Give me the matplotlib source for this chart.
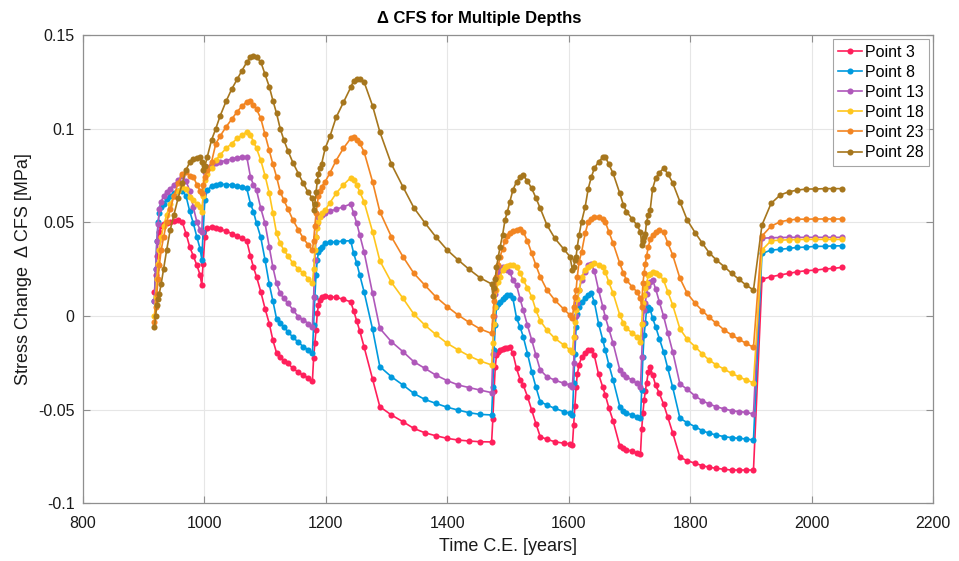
import matplotlib
matplotlib.use("Agg")
import matplotlib.pyplot as plt

plt.rcParams['font.family'] = ['Liberation Sans', 'DejaVu Sans']
plt.rcParams['axes.unicode_minus'] = False

years = [918, 920, 922, 924, 926, 929, 933, 938, 944, 950, 957, 964, 970, 976, 982, 988, 993, 996,
         998, 1001,
         1005, 1012, 1019, 1026, 1036, 1045, 1054, 1062, 1070, 1076, 1081, 1086, 1093, 1100, 1107, 1113,
         1119, 1125, 1131, 1138, 1146, 1155, 1163, 1171, 1178,
         1180, 1182, 1184, 1186, 1188, 1190, 1193,
         1199, 1207, 1217, 1229, 1241, 1246, 1251, 1256, 1263, 1277, 1289, 1308, 1327, 1345, 1363, 1381,
         1400, 1418, 1436, 1454, 1473,
         1475, 1477, 1479, 1481, 1484, 1487,
         1491, 1495, 1499, 1503, 1508, 1514, 1520, 1525, 1532, 1539, 1546, 1553, 1564, 1577, 1592, 1602, 1606,
         1608, 1610, 1612, 1614, 1617, 1621,
         1627, 1632, 1637, 1642, 1649, 1656, 1660, 1666, 1673, 1684, 1690, 1695, 1704, 1712, 1718,
         1720, 1722, 1724, 1726, 1728, 1731,
         1734, 1738, 1743, 1749, 1756, 1763, 1771, 1783, 1795, 1808, 1820, 1831, 1843, 1856, 1868, 1880, 1892, 1904,
         1918, 1933, 1948, 1962, 1976, 1991, 2006, 2021, 2035, 2050]

point3 = [0.013, 0.022, 0.032, 0.040, 0.045, 0.048, 0.049, 0.0495, 0.050, 0.0505, 0.051, 0.050, 0.044, 0.037, 0.032, 0.027, 0.022, 0.0165,
          0.028, 0.042,
          0.0468, 0.0477, 0.047, 0.0462, 0.0454, 0.044, 0.0427, 0.0415, 0.040, 0.032, 0.026, 0.021, 0.013, 0.004, -0.004, -0.013,
          -0.0196, -0.022, -0.0239, -0.0253, -0.028, -0.030, -0.0317, -0.033, -0.0347,
          -0.0224, -0.0144, -0.0075, 0.0016, 0.0059, 0.0085, 0.0103,
          0.0107, 0.0103, 0.010, 0.0089, 0.0076, 0.0027, -0.0027, -0.008, -0.0164, -0.0336, -0.0484, -0.0528, -0.0564, -0.060, -0.0623, -0.0639,
          -0.0653, -0.0662, -0.0667, -0.0671, -0.0672,
          -0.055, -0.040, -0.027, -0.021, -0.019, -0.018,
          -0.0175, -0.0172, -0.0168, -0.0167, -0.0199, -0.028, -0.034, -0.0368, -0.043, -0.0502, -0.0575, -0.0644, -0.0658, -0.0671, -0.0679, -0.0683, -0.0688,
          -0.058, -0.048, -0.038, -0.031, -0.026, -0.022,
          -0.0199, -0.0183, -0.018, -0.021, -0.031, -0.038, -0.042, -0.049, -0.056, -0.0694, -0.0705, -0.0713, -0.0722, -0.073, -0.0737,
          -0.0605, -0.052, -0.045, -0.040, -0.0359, -0.0297,
          -0.027, -0.0315, -0.037, -0.0412, -0.047, -0.054, -0.0623, -0.0754, -0.0772, -0.0786, -0.0799, -0.0807, -0.0813, -0.0818, -0.0822, -0.0822, -0.0822, -0.0822,
          0.0196, 0.021, 0.0219, 0.0228, 0.0236, 0.0242, 0.0245, 0.0251, 0.0254, 0.026]

point8 = [0.008, 0.025, 0.040, 0.050, 0.055, 0.058, 0.060, 0.0625, 0.064, 0.0655, 0.067, 0.067, 0.064, 0.056, 0.0495, 0.042, 0.036, 0.030,
          0.045, 0.062,
          0.0672, 0.0694, 0.070, 0.0704, 0.0702, 0.070, 0.0694, 0.0688, 0.0681, 0.060, 0.0557, 0.0495, 0.042, 0.030, 0.017, 0.008,
          -0.0015, -0.0036, -0.006, -0.0084, -0.0114, -0.014, -0.0164, -0.018, -0.0196,
          -0.005, 0.010, 0.022, 0.030, 0.034, 0.036, 0.037,
          0.0388, 0.0393, 0.0396, 0.040, 0.0402, 0.0334, 0.0281, 0.0219, 0.013, -0.007, -0.027, -0.0324, -0.0368, -0.0413, -0.0445, -0.0466,
          -0.0487, -0.0502, -0.0516, -0.0525, -0.0528,
          -0.0377, -0.018, -0.005, 0.005, 0.0065, 0.0076,
          0.009, 0.0103, 0.011, 0.0112, 0.0094, -0.001, -0.006, -0.011, -0.020, -0.0297, -0.038, -0.0457, -0.0475, -0.0493, -0.051, -0.0519, -0.0528,
          -0.036, -0.020, -0.006, 0.001, 0.005, 0.0076,
          0.0095, 0.011, 0.0121, 0.0076, -0.004, -0.0128, -0.0181, -0.026, -0.0342, -0.0484, -0.0505, -0.0519, -0.0528, -0.0537, -0.0546,
          -0.0395, -0.0217, -0.010, -0.0039, 0.0032, 0.005,
          0.0036, -0.0012, -0.0057, -0.012, -0.019, -0.028, -0.038, -0.0546, -0.0569, -0.0591, -0.0612, -0.0626, -0.0635, -0.0644, -0.0649, -0.0653, -0.0656, -0.0662,
          0.0334, 0.0352, 0.0356, 0.0361, 0.0366, 0.0368, 0.0372, 0.0372, 0.0374, 0.0375]

point13 = [0.008, 0.025, 0.040, 0.049, 0.057, 0.061, 0.064, 0.066, 0.068, 0.070, 0.0725, 0.0749, 0.072, 0.067, 0.058, 0.050, 0.046, 0.045,
           0.065, 0.077,
           0.0797, 0.0806, 0.0815, 0.0823, 0.083, 0.0838, 0.0845, 0.0848, 0.085, 0.0743, 0.070, 0.0672, 0.0575, 0.0495, 0.037, 0.026,
           0.0174, 0.0121, 0.0094, 0.0068, 0.0032, -0.0004, -0.002, -0.004, -0.0057,
           0.010, 0.030, 0.042, 0.049, 0.053, 0.0535, 0.054,
           0.055, 0.056, 0.057, 0.0583, 0.0598, 0.0548, 0.0495, 0.0432, 0.0343, 0.0121, -0.0066, -0.0137, -0.019, -0.0244, -0.0279, -0.0315,
           -0.0345, -0.0368, -0.0382, -0.0395, -0.0409,
           -0.020, 0.000, 0.012, 0.019, 0.023, 0.0255,
           0.026, 0.025, 0.0245, 0.0236, 0.019, 0.0165, 0.009, 0.0032, -0.005, -0.0128, -0.021, -0.0288, -0.0324, -0.0342, -0.0359, -0.0368, -0.0377,
           -0.025, -0.011, 0.000, 0.007, 0.0139, 0.0192,
           0.0236, 0.0272, 0.0277, 0.0242, 0.0139, 0.005, -0.0004, -0.007, -0.0146, -0.0288, -0.031, -0.0324, -0.0342, -0.0359, -0.0377,
           -0.0217, -0.0039, 0.003, 0.007, 0.012, 0.016,
           0.0183, 0.0192, 0.0145, 0.0076, 0.000, -0.009, -0.019, -0.0363, -0.0391, -0.0427, -0.0452, -0.047, -0.0484, -0.0496, -0.0505, -0.051, -0.0514, -0.0523,
           0.0415, 0.0418, 0.0419, 0.042, 0.042, 0.042, 0.042, 0.042, 0.042, 0.042]

point18 = [0.000, 0.010, 0.020, 0.028, 0.035, 0.042, 0.048, 0.054, 0.060, 0.064, 0.067, 0.069, 0.068, 0.0637, 0.062, 0.060, 0.058, 0.0557,
           0.064, 0.0726,
           0.076, 0.079, 0.0832, 0.086, 0.0895, 0.092, 0.0948, 0.0965, 0.0983, 0.0966, 0.093, 0.0895, 0.0832, 0.075, 0.0655, 0.055,
           0.0441, 0.0388, 0.0352, 0.032, 0.0281, 0.025, 0.0228, 0.020, 0.0174,
           0.025, 0.035, 0.042, 0.047, 0.050, 0.053, 0.055,
           0.0566, 0.0605, 0.0655, 0.070, 0.0738, 0.0726, 0.070, 0.0663, 0.061, 0.045, 0.0295, 0.018, 0.0095, 0.001, -0.0048, -0.0098,
           -0.0146, -0.0181, -0.0213, -0.024, -0.0261,
           -0.0146, -0.004, 0.005, 0.0139, 0.018, 0.021,
           0.0245, 0.026, 0.0267, 0.027, 0.0272, 0.026, 0.023, 0.0192, 0.015, 0.0103, 0.003, -0.0025, -0.0075, -0.0119, -0.0155, -0.0181, -0.019,
           -0.011, -0.003, 0.0032, 0.009, 0.0139, 0.021,
           0.0245, 0.026, 0.0275, 0.0281, 0.0272, 0.026, 0.0236, 0.018, 0.0121, 0.0005, -0.0039, -0.0066, -0.0089, -0.011, -0.0137,
           -0.004, 0.0068, 0.011, 0.015, 0.0174, 0.0219,
           0.0225, 0.0236, 0.0231, 0.0219, 0.0192, 0.013, 0.0059, -0.0069, -0.0124, -0.0164, -0.0203, -0.0235, -0.0261, -0.0284, -0.0306, -0.0324, -0.0342, -0.0356,
           0.0352, 0.0402, 0.0405, 0.0407, 0.0408, 0.0409, 0.0409, 0.0409, 0.0409, 0.0409]

point23 = [-0.003, 0.005, 0.012, 0.020, 0.027, 0.035, 0.042, 0.050, 0.057, 0.064, 0.071, 0.076, 0.077, 0.075, 0.0743, 0.070, 0.067, 0.0655,
           0.070, 0.0743,
           0.078, 0.0823, 0.092, 0.096, 0.101, 0.105, 0.109, 0.112, 0.1144, 0.1149, 0.1126, 0.1105, 0.1055, 0.097, 0.0886, 0.081,
           0.0743, 0.0663, 0.0619, 0.057, 0.0512, 0.046, 0.0415, 0.038, 0.0352,
           0.040, 0.048, 0.055, 0.060, 0.064, 0.067, 0.069,
           0.0717, 0.0765, 0.083, 0.0895, 0.0948, 0.0954, 0.094, 0.0922, 0.0877, 0.0717, 0.0557, 0.0423, 0.0317, 0.0228, 0.0165, 0.0103,
           0.005, 0.0005, -0.0034, -0.0069, -0.0093,
           0.000, 0.008, 0.0139, 0.021, 0.027, 0.0317,
           0.036, 0.040, 0.0425, 0.0441, 0.0452, 0.0459, 0.0463, 0.045, 0.040, 0.0335, 0.027, 0.021, 0.0139, 0.0085, 0.0036, 0.0005, -0.001,
           0.005, 0.010, 0.0139, 0.021, 0.029, 0.034,
           0.0441, 0.0503, 0.052, 0.0527, 0.053, 0.052, 0.0503, 0.045, 0.0388, 0.0281, 0.0228, 0.0192, 0.0157, 0.013, 0.0094,
           0.005, 0.0174, 0.023, 0.028, 0.032, 0.037,
           0.041, 0.0432, 0.045, 0.0458, 0.0447, 0.039, 0.0326, 0.0201, 0.0121, 0.0068, 0.0028, -0.0007, -0.0039, -0.0075, -0.0101, -0.0124, -0.0146, -0.0167,
           0.0427, 0.048, 0.0503, 0.0512, 0.0517, 0.0517, 0.0518, 0.0518, 0.0518, 0.0518]

point28 = [-0.006, 0.000, 0.006, 0.009, 0.012, 0.017, 0.025, 0.035, 0.046, 0.054, 0.063, 0.071, 0.078, 0.082, 0.0838, 0.0841, 0.085, 0.082,
           0.078, 0.080,
           0.085, 0.094, 0.100, 0.1067, 0.1147, 0.121, 0.1263, 0.131, 0.1355, 0.138, 0.1387, 0.138, 0.1357, 0.129, 0.1224, 0.115,
           0.1082, 0.100, 0.094, 0.088, 0.0818, 0.076, 0.0708, 0.066, 0.0628,
           0.0566, 0.060, 0.066, 0.072, 0.076, 0.079, 0.081,
           0.0895, 0.096, 0.106, 0.114, 0.122, 0.1256, 0.1265, 0.1265, 0.125, 0.1122, 0.0983, 0.0811, 0.069, 0.0578, 0.0498, 0.0423,
           0.0352, 0.0299, 0.0249, 0.0204, 0.0171,
           0.0107, 0.015, 0.020, 0.026, 0.0317, 0.037,
           0.0432, 0.0512, 0.0557, 0.061, 0.0672, 0.0717, 0.074, 0.0752, 0.072, 0.0681, 0.063, 0.0575, 0.0486, 0.0415, 0.0356, 0.0317, 0.0245,
           0.026, 0.030, 0.0317, 0.037, 0.0432, 0.0503,
           0.0583, 0.068, 0.074, 0.0788, 0.0823, 0.0847, 0.085, 0.081, 0.0761, 0.0655, 0.0592, 0.0557, 0.052, 0.0486, 0.045,
           0.0379, 0.040, 0.042, 0.044, 0.0503, 0.054,
           0.0566, 0.068, 0.0735, 0.0765, 0.0788, 0.076, 0.0711, 0.061, 0.0512, 0.0445, 0.0388, 0.0338, 0.0299, 0.0263, 0.0228, 0.0196, 0.0165, 0.0139,
           0.0486, 0.0601, 0.0646, 0.0663, 0.0672, 0.0678, 0.0678, 0.068, 0.068, 0.068]

series_names = ["Point 3", "Point 8", "Point 13", "Point 18", "Point 23", "Point 28"]
series_values = [point3, point8, point13, point18, point23, point28]
colors = ["#FF1F5B", "#009ADE", "#AF58BA", "#FFC61E", "#F28522", "#A6761D"]

xticks = [800, 1000, 1200, 1400, 1600, 1800, 2000, 2200]
yticks = [-0.1, -0.05, 0, 0.05, 0.1, 0.15]
ytick_labels = ["-0.1", "-0.05", "0", "0.05", "0.1", "0.15"]

fig = plt.figure(figsize=(9.59, 5.61), dpi=100)
ax = fig.add_axes([0.0863, 0.1027, 0.8869, 0.8349])

for name, vals, c in zip(series_names, series_values, colors):
    ax.plot(years, vals, color=c, lw=1.2, marker='o', ms=4.4, mew=0, label=name)

ax.set_xlim(800, 2200)
ax.set_ylim(-0.1, 0.15)
ax.set_xticks(xticks)
ax.set_xticklabels([str(t) for t in xticks])
ax.set_yticks(yticks)
ax.set_yticklabels(ytick_labels)
ax.grid(True, color='#e6e6e6', lw=0.8)
ax.set_axisbelow(True)
for s in ax.spines.values():
    s.set_color('#8f8f8f')
    s.set_linewidth(0.9)
ax.tick_params(direction='in', length=5, width=0.8, color='#8f8f8f', labelsize=11.5,
               labelcolor='#1a1a1a', top=True, right=True)
ax.tick_params(axis='x', pad=9)
ax.tick_params(axis='y', pad=6)

fig.text(0.5, 1 - 18.0 / 561, "Δ CFS for Multiple Depths", fontsize=12, fontweight='bold',
         ha='center', va='center')
ax.set_xlabel("Time C.E. [years]", fontsize=13, color='#1a1a1a', labelpad=5)
ax.set_ylabel("Stress Change  Δ CFS [MPa]", fontsize=13, color='#1a1a1a', labelpad=4)

leg = ax.legend(loc='upper right', fontsize=11.5, frameon=True, fancybox=False,
                edgecolor='#8f8f8f', borderpad=0.35, labelspacing=0.32, handlelength=1.5,
                handletextpad=0.15, borderaxespad=0.25)
leg.get_frame().set_linewidth(0.8)

fig.savefig("out.png", dpi=100)
